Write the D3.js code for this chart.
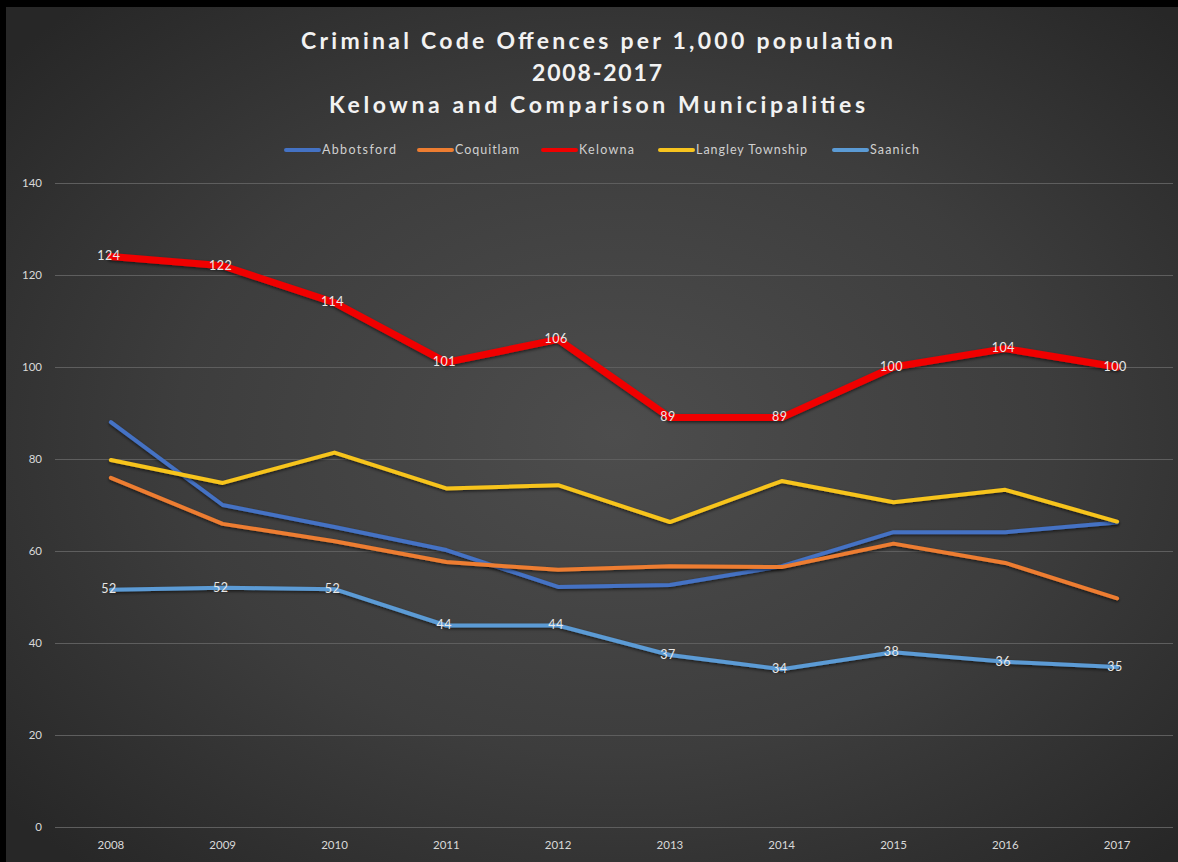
<!DOCTYPE html>
<html>
<head>
<meta charset="utf-8">
<script src="https://cdn.jsdelivr.net/npm/d3@7"></script>
<style>
  html, body { margin: 0; padding: 0; background: #000; }
  svg { display: block; }
</style>
</head>
<body>
<svg id="chart" width="1178" height="862"></svg>
<script>
const years = ["2008","2009","2010","2011","2012","2013","2014","2015","2016","2017"];
const seriesNames = ["Abbotsford","Coquitlam","Kelowna","Langley Township","Saanich"];
const abbotsford = [88, 70, 65.2, 60.2, 52.2, 52.6, 56.7, 64.1, 64.1, 66.2];
const coquitlam  = [75.9, 65.9, 62.1, 57.6, 55.9, 56.7, 56.5, 61.6, 57.4, 49.7];
const kelowna    = [124, 122, 114, 101, 106, 89, 89, 100, 104, 100];
const langley    = [79.8, 74.8, 81.4, 73.6, 74.3, 66.3, 75.2, 70.6, 73.3, 66.4];
const saanich    = [51.6, 52, 51.7, 43.8, 43.8, 37.4, 34.3, 38, 35.9, 34.8];
const kelownaLabels = ["124","122","114","101","106","89","89","100","104","100"];
const saanichLabels = ["52","52","52","44","44","37","34","38","36","35"];
const yTicks = [0, 20, 40, 60, 80, 100, 120, 140];
const titleLines = ["Criminal Code Offences per 1,000 population", "2008-2017", "Kelowna and Comparison Municipalities"];

(function () {
const colors = {
  "Abbotsford": "#4472C4",
  "Coquitlam": "#ED7D31",
  "Kelowna": "#F00000",
  "Langley Township": "#F7C41F",
  "Saanich": "#5B9BD5"
};
const seriesData = [
  {name: "Abbotsford", values: abbotsford, width: 4},
  {name: "Coquitlam", values: coquitlam, width: 4},
  {name: "Langley Township", values: langley, width: 4},
  {name: "Saanich", values: saanich, width: 4, labels: saanichLabels},
  {name: "Kelowna", values: kelowna, width: 7, labels: kelownaLabels}
];

const svg = d3.select("#chart");
const W = 1178, H = 862;
const defs = svg.append("defs");
const grad = defs.append("radialGradient").attr("id", "bg")
  .attr("cx", "52%").attr("cy", "50%").attr("r", "68%");
grad.append("stop").attr("offset", "0%").attr("stop-color", "#4d4d4d");
grad.append("stop").attr("offset", "55%").attr("stop-color", "#3d3d3d");
grad.append("stop").attr("offset", "100%").attr("stop-color", "#272727");
const sh = defs.append("filter").attr("id", "shadow").attr("x", "-5%").attr("y", "-20%").attr("width", "110%").attr("height", "140%");
sh.append("feDropShadow").attr("dx", 0).attr("dy", 1.5).attr("stdDeviation", 1.5)
  .attr("flood-color", "#000").attr("flood-opacity", 0.6);

svg.append("rect").attr("x", 0).attr("y", 0).attr("width", W).attr("height", H).attr("fill", "#000");
svg.append("rect").attr("x", 6).attr("y", 7).attr("width", W - 6).attr("height", H - 7).attr("fill", "url(#bg)");

const pLeft = 55, pRight = 1173, pTop = 183, pBottom = 827;
const x = d3.scaleBand().domain(years).range([pLeft, pRight]);
const y = d3.scaleLinear().domain([0, 140]).range([pBottom, pTop]);

const yAxis = d3.axisLeft(y).tickValues(yTicks).tickSize(-(pRight - pLeft)).tickPadding(13);
const gy = svg.append("g").attr("transform", `translate(${pLeft},0)`).call(yAxis);
gy.select(".domain").remove();
gy.selectAll(".tick line").attr("stroke", "#5e5e5e").attr("stroke-width", 1.2);
gy.selectAll(".tick text").attr("fill", "#d9d9d9").attr("font-family", "Lato, 'Open Sans', sans-serif")
  .attr("font-size", 11.5).attr("x", -13).attr("text-anchor", "end");

const xAxis = d3.axisBottom(x).tickSize(0).tickPadding(14);
const gx = svg.append("g").attr("transform", `translate(0,${pBottom})`).call(xAxis);
gx.select(".domain").remove();
gx.selectAll(".tick text").attr("fill", "#d9d9d9").attr("font-family", "Lato, 'Open Sans', sans-serif")
  .attr("font-size", 11.5).attr("dy", "0.71em");

const line = d3.line().x((d, i) => x(years[i]) + x.bandwidth() / 2).y(d => y(d));
seriesData.forEach(s => {
  svg.append("path").datum(s.values)
    .attr("d", line)
    .attr("fill", "none")
    .attr("stroke", colors[s.name])
    .attr("stroke-width", s.width)
    .attr("stroke-linejoin", "round")
    .attr("stroke-linecap", "round")
    .attr("filter", "url(#shadow)");
});
seriesData.filter(s => s.labels).forEach(s => {
  svg.append("g").selectAll("text").data(s.values).join("text")
    .attr("x", (d, i) => x(years[i]) + x.bandwidth() / 2 - 2)
    .attr("y", d => y(d))
    .attr("dy", "0.3em")
    .attr("text-anchor", "middle")
    .attr("fill", "#e8e8e8")
    .attr("font-family", "Lato, 'Open Sans', sans-serif")
    .attr("font-size", 12.5)
    .attr("letter-spacing", 0.5)
    .text((d, i) => s.labels[i]);
});

const titleWidths = [592, 130, 536];
svg.append("g").selectAll("text").data(titleLines).join("text")
  .attr("x", 597)
  .attr("y", (d, i) => 49 + i * 32)
  .attr("text-anchor", "middle")
  .attr("fill", "#f2f2f2")
  .attr("font-family", "Lato, 'Open Sans', sans-serif")
  .attr("font-weight", "bold")
  .attr("font-size", 23)
  .attr("textLength", (d, i) => titleWidths[i])
  .attr("lengthAdjust", "spacing")
  .text(d => d);

const legendX = [284, 417, 541, 658, 832];
const legTextW = [74, 64, 55, 111, 49];
const legOrder = ["Abbotsford","Coquitlam","Kelowna","Langley Township","Saanich"];
const leg = svg.append("g").selectAll("g").data(legOrder).join("g")
  .attr("transform", (d, i) => `translate(${legendX[i]},150)`);
leg.append("line").attr("x1", 2).attr("x2", 35).attr("y1", 0).attr("y2", 0)
  .attr("stroke", d => colors[d]).attr("stroke-width", 4).attr("stroke-linecap", "round");
leg.append("text").attr("x", 38).attr("y", 0).attr("dy", "0.35em")
  .attr("fill", "#d0d0d0").attr("font-family", "Lato, 'Open Sans', sans-serif").attr("font-size", 12.5)
  .attr("textLength", (d, i) => legTextW[i]).attr("lengthAdjust", "spacing")
  .text(d => d);
})();
</script>
</body>
</html>
